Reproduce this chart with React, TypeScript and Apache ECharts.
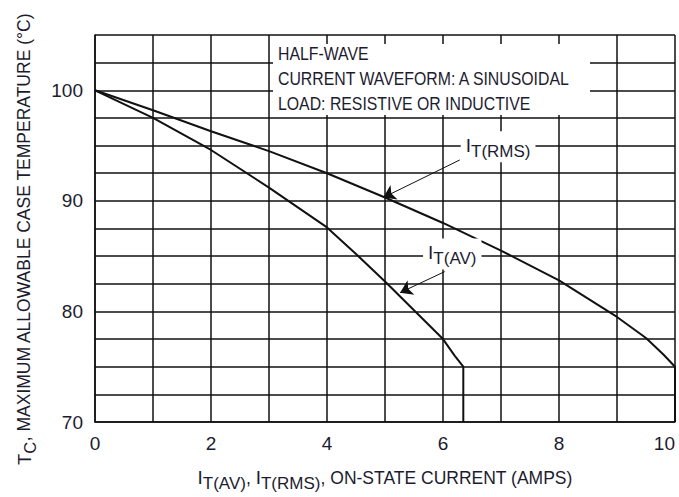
import React, { useEffect, useRef } from 'react';
import * as echarts from 'echarts';

// Tick labels
const xLabelValues = [0, 2, 4, 6, 8, 10];
const yLabelValues = [70, 80, 90, 100];

// I_T(RMS) curve
const rmsCurrent = [0, 1, 2, 3, 4, 5, 6, 7, 8, 9, 9.5, 9.8, 10, 10];
const rmsTemp = [100, 98.2, 96.3, 94.5, 92.5, 90.3, 88.0, 85.5, 82.8, 79.5, 77.6, 76.1, 75, 70];

// I_T(AV) curve
const avCurrent = [0, 1, 2, 3, 4, 4.5, 5, 5.5, 6, 6.2, 6.35, 6.35];
const avTemp = [100, 97.5, 94.6, 91.2, 87.6, 85.2, 82.7, 80.1, 77.5, 76.0, 75, 70];

// Annotation anchors (data coords)
const rmsLabelAt = [6.95, 94.9];
const rmsArrowFrom = [6.29, 93.7];
const rmsArrowTo = [4.97, 90.3];
const avLabelAt = [6.16, 85.2];
const avArrowFrom = [6.03, 83.6];
const avArrowTo = [5.26, 81.7];

const noteLines = ['HALF-WAVE', 'CURRENT WAVEFORM: A SINUSOIDAL', 'LOAD: RESISTIVE OR INDUCTIVE'];
const yTitle = '{i|T}{s|C}{n|, MAXIMUM ALLOWABLE CASE TEMPERATURE (°C)}';
const xTitle = '{i|I}{s|T(AV)}{n|, }{i|I}{s|T(RMS)}{n|, ON-STATE CURRENT (AMPS)}';

const FONT = '"Liberation Sans", Arial, sans-serif';
const TXT = '#1c1c30';
const INK = '#111';

const zip = (xs: number[], ys: number[]) => xs.map((x, i) => [x, ys[i]]);

const subRich = {
  i: { fontSize: 19, fontFamily: FONT, color: TXT },
  s: { fontSize: 17, fontFamily: FONT, color: TXT, padding: [12, 0, 0, 0] },
  n: { fontSize: 17.5, fontFamily: FONT, color: TXT },
};

const yRich = {
  i: { fontSize: 18.5, fontFamily: FONT, fill: TXT, color: TXT },
  s: { fontSize: 16.5, fontFamily: FONT, fill: TXT, color: TXT, padding: [12, 0, 0, 0] },
  n: { fontSize: 17.5, fontFamily: FONT, fill: TXT, color: TXT },
};

export default function App() {
  const ref = useRef<HTMLDivElement>(null);
  useEffect(() => {
    const chart = echarts.init(ref.current!, null, { renderer: 'svg' });
    const option: any = {
      animation: false,
      backgroundColor: '#fff',
      textStyle: { fontFamily: FONT },
      grid: { left: 95, right: 4, top: 35, bottom: 75, containLabel: false, outerBoundsMode: 'none' },
      xAxis: {
        type: 'value',
        min: 0,
        max: 10,
        interval: 1,
        axisLine: { show: true, lineStyle: { color: INK, width: 1.5 } },
        axisTick: { show: false },
        axisLabel: {
          margin: 12,
          fontSize: 19,
          fontFamily: FONT,
          color: TXT,
          alignMaxLabel: 'right',
          formatter: (v: number) => (xLabelValues.includes(v) ? String(v) : ''),
        },
        splitLine: { show: true, lineStyle: { color: INK, width: 1.5 } },
        name: xTitle,
        nameLocation: 'middle',
        nameGap: 41,
        nameTextStyle: { rich: subRich },
      },
      yAxis: {
        type: 'value',
        min: 70,
        max: 105,
        interval: 2.5,
        axisLine: { show: true, lineStyle: { color: INK, width: 1.5 } },
        axisTick: { show: false },
        axisLabel: {
          margin: 12,
          fontSize: 19,
          fontFamily: FONT,
          color: TXT,
          formatter: (v: number) => (yLabelValues.includes(v) ? String(v) : ''),
        },
        splitLine: { show: true, lineStyle: { color: INK, width: 1.5 } },
      },
      series: [
        {
          type: 'line',
          name: 'IT(RMS)',
          data: zip(rmsCurrent, rmsTemp),
          showSymbol: false,
          lineStyle: { color: INK, width: 2 },
          z: 3,
          markLine: {
            silent: true,
            symbol: ['none', 'arrow'],
            symbolSize: 12,
            label: { show: false },
            lineStyle: { color: INK, width: 1, type: 'solid' },
            data: [[{ coord: rmsArrowFrom }, { coord: rmsArrowTo }]],
          },
          markPoint: {
            silent: true,
            symbol: 'rect',
            symbolSize: 0,
            data: [{ coord: rmsLabelAt }],
            label: {
              show: true,
              position: 'inside',
              backgroundColor: '#fff',
              padding: [0, 5, 2, 5],
              formatter: '{i|I}{s|T(RMS)}',
              rich: subRich,
            },
          },
        },
        {
          type: 'line',
          name: 'IT(AV)',
          data: zip(avCurrent, avTemp),
          showSymbol: false,
          lineStyle: { color: INK, width: 2 },
          z: 3,
          markLine: {
            silent: true,
            symbol: ['none', 'arrow'],
            symbolSize: 12,
            label: { show: false },
            lineStyle: { color: INK, width: 1, type: 'solid' },
            data: [[{ coord: avArrowFrom }, { coord: avArrowTo }]],
          },
          markPoint: {
            silent: true,
            symbol: 'rect',
            symbolSize: 0,
            data: [{ coord: avLabelAt }],
            label: {
              show: true,
              position: 'inside',
              backgroundColor: '#fff',
              padding: [0, 5, 2, 5],
              formatter: '{i|I}{s|T(AV)}',
              rich: subRich,
            },
          },
        },
      ],
      graphic: [
        {
          type: 'rect',
          left: 273,
          top: 44,
          shape: { width: 317, height: 71 },
          style: { fill: '#fff' },
          z: 10,
        },
        ...noteLines.map((t, i) => ({
          type: 'text',
          x: 278,
          y: 45 + i * 25,
          scaleX: 0.88,
          z: 11,
          style: { text: t, fill: TXT, font: `18px ${FONT}` },
        })),
        {
          type: 'text',
          x: 24,
          y: 239,
          rotation: Math.PI / 2,
          z: 11,
          style: {
            text: yTitle,
            rich: yRich,
            align: 'center',
            verticalAlign: 'middle',
            fill: TXT,
          },
        },
      ],
    };
    chart.setOption(option);
    return () => chart.dispose();
  }, []);
  return <div ref={ref} style={{ position: 'fixed', left: 0, top: 0, width: 679, height: 497 }} />;
}
